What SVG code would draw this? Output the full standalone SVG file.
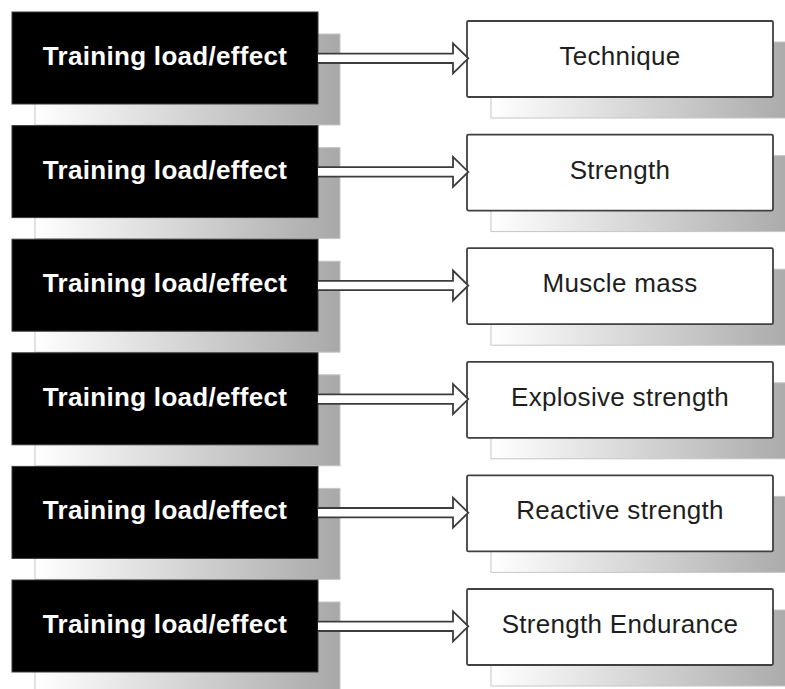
<svg xmlns="http://www.w3.org/2000/svg" xmlns:xlink="http://www.w3.org/1999/xlink" width="785" height="689" viewBox="0 0 785 689">
  <defs>
    <linearGradient id="shade" x1="0" y1="0" x2="1" y2="0">
      <stop offset="0" stop-color="#ffffff"/>
      <stop offset="1" stop-color="#a8a8a8"/>
    </linearGradient>
    <!-- hollow double-line arrow, origin at the shaft start on the centre line -->
    <path id="arrow" d="M0,-4.7 H135 V-15 L150.3,0 L135,15 V4.7 H0"/>
    <style>
      .shadow { fill: url(#shade); stroke: #c6c6c6; stroke-width: 1; }
      .load { fill: #000000; stroke: #3a3a3a; stroke-width: 1; }
      .load-text { fill: #ffffff; font-family: "Liberation Sans", Arial, sans-serif; font-weight: bold; font-size: 26px; letter-spacing: 0.3px; text-anchor: middle; }
      .effect { fill: #ffffff; stroke: #404040; stroke-width: 1.8; }
      .effect-text { fill: #1e1e1e; font-family: "Liberation Sans", Arial, sans-serif; font-size: 26px; letter-spacing: 0.3px; text-anchor: middle; }
      .conn { fill: #ffffff; stroke: #3c3c3c; stroke-width: 1.8; stroke-linejoin: miter; }
    </style>
  </defs>
  <rect width="785" height="689" fill="#ffffff"/>

  <!-- training load boxes (left column) -->
  <g id="load-1">
    <rect class="shadow" x="35" y="34" width="305" height="91"/>
    <rect class="load" x="12" y="12" width="306" height="92"/>
    <text class="load-text" x="165" y="65">Training load/effect</text>
  </g>
  <g id="load-2">
    <rect class="shadow" x="35" y="147.6" width="305" height="91"/>
    <rect class="load" x="12" y="125.6" width="306" height="92"/>
    <text class="load-text" x="165" y="178.6">Training load/effect</text>
  </g>
  <g id="load-3">
    <rect class="shadow" x="35" y="261.2" width="305" height="91"/>
    <rect class="load" x="12" y="239.2" width="306" height="92"/>
    <text class="load-text" x="165" y="292.2">Training load/effect</text>
  </g>
  <g id="load-4">
    <rect class="shadow" x="35" y="374.8" width="305" height="91"/>
    <rect class="load" x="12" y="352.8" width="306" height="92"/>
    <text class="load-text" x="165" y="405.8">Training load/effect</text>
  </g>
  <g id="load-5">
    <rect class="shadow" x="35" y="488.4" width="305" height="91"/>
    <rect class="load" x="12" y="466.4" width="306" height="92"/>
    <text class="load-text" x="165" y="519.4">Training load/effect</text>
  </g>
  <g id="load-6">
    <rect class="shadow" x="35" y="602" width="305" height="91"/>
    <rect class="load" x="12" y="580" width="306" height="92"/>
    <text class="load-text" x="165" y="633">Training load/effect</text>
  </g>

  <!-- effect boxes (right column) -->
  <g id="technique">
    <rect class="shadow" x="491" y="42" width="306" height="76"/>
    <rect class="effect" x="467" y="21" width="306" height="76" rx="1.5"/>
    <text class="effect-text" x="620" y="65">Technique</text>
  </g>
  <g id="strength">
    <rect class="shadow" x="491" y="155.6" width="306" height="76"/>
    <rect class="effect" x="467" y="134.6" width="306" height="76" rx="1.5"/>
    <text class="effect-text" x="620" y="178.6">Strength</text>
  </g>
  <g id="muscle-mass">
    <rect class="shadow" x="491" y="269.2" width="306" height="76"/>
    <rect class="effect" x="467" y="248.2" width="306" height="76" rx="1.5"/>
    <text class="effect-text" x="620" y="292.2">Muscle mass</text>
  </g>
  <g id="explosive-strength">
    <rect class="shadow" x="491" y="382.8" width="306" height="76"/>
    <rect class="effect" x="467" y="361.8" width="306" height="76" rx="1.5"/>
    <text class="effect-text" x="620" y="405.8">Explosive strength</text>
  </g>
  <g id="reactive-strength">
    <rect class="shadow" x="491" y="496.4" width="306" height="76"/>
    <rect class="effect" x="467" y="475.4" width="306" height="76" rx="1.5"/>
    <text class="effect-text" x="620" y="519.4">Reactive strength</text>
  </g>
  <g id="strength-endurance">
    <rect class="shadow" x="491" y="610" width="306" height="76"/>
    <rect class="effect" x="467" y="589" width="306" height="76" rx="1.5"/>
    <text class="effect-text" x="620" y="633">Strength Endurance</text>
  </g>

  <!-- connectors -->
  <g id="connectors">
    <use class="conn" xlink:href="#arrow" href="#arrow" transform="translate(318,58.3)"/>
    <use class="conn" xlink:href="#arrow" href="#arrow" transform="translate(318,171.9)"/>
    <use class="conn" xlink:href="#arrow" href="#arrow" transform="translate(318,285.5)"/>
    <use class="conn" xlink:href="#arrow" href="#arrow" transform="translate(318,399.1)"/>
    <use class="conn" xlink:href="#arrow" href="#arrow" transform="translate(318,512.7)"/>
    <use class="conn" xlink:href="#arrow" href="#arrow" transform="translate(318,626.3)"/>
  </g>
</svg>
